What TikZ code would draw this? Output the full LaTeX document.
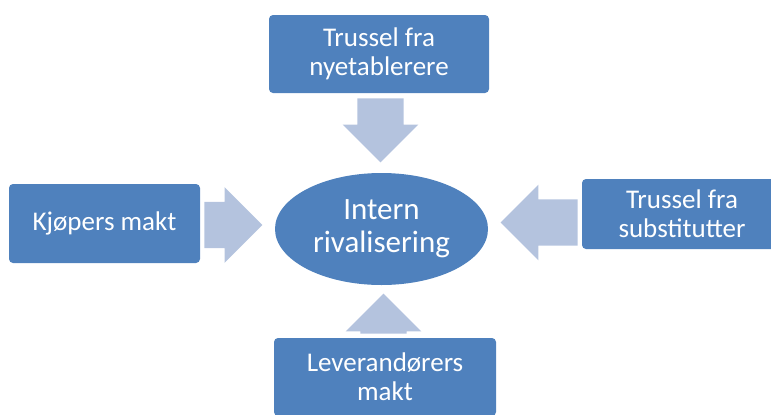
\documentclass[tikz,border=0pt]{standalone}
\usepackage{fontspec}
\setmainfont{Carlito}
\usetikzlibrary{shapes.geometric,shapes.arrows}
\definecolor{boxblue}{RGB}{79,129,189}
\definecolor{arrowblue}{RGB}{180,195,222}
\begin{document}
\begin{tikzpicture}[x=0.5pt,y=0.5pt,
    force/.style={rectangle,rounded corners=2pt,fill=boxblue,text=white,align=center,
      inner sep=0pt,font=\fontsize{13.5}{14.5}\selectfont},
    rival/.style={ellipse,fill=boxblue,text=white,align=center,inner sep=0pt,
      minimum width=106.5pt,minimum height=56pt,font=\fontsize{15.5}{16.5}\selectfont},
    push/.style={single arrow,fill=arrowblue,draw=none,inner xsep=0pt,inner ysep=11.4pt,
      single arrow tip angle=90,single arrow head extend=7.3pt,anchor=tip}]
  \useasboundingbox (0,0) rectangle (771,414);
  % five forces
  \node[force,minimum width=110pt,minimum height=39pt] (entrants) at (379,360)
    {Trussel fra\\nyetablerere};
  \node[force,minimum width=95.5pt,minimum height=39.5pt] (buyers) at (104.5,190.5)
    {Kjøpers makt};
  \node[force,minimum width=100pt,minimum height=35pt] (substitutes) at (682,200)
    {Trussel fra\\substitutter};
  \node[force,minimum width=111pt,minimum height=39pt] (suppliers) at (385,37)
    {Leverandørers\\makt};
  \node[rival] (rivalry) at (381.5,185) {Intern\\rivalisering};
  % arrows towards the centre
  \begin{scope}
    \node[push,minimum height=32pt,rotate=-90] (fromtop) at (380.5,251) {};
    \node[push,minimum height=29pt] (fromleft) at (263,189) {};
    \node[push,minimum height=38.5pt,rotate=180] (fromright) at (500,191.5) {};
    \node[push,minimum height=20pt,rotate=90] (frombottom) at (383.5,121) {};
  \end{scope}
\end{tikzpicture}
\end{document}
